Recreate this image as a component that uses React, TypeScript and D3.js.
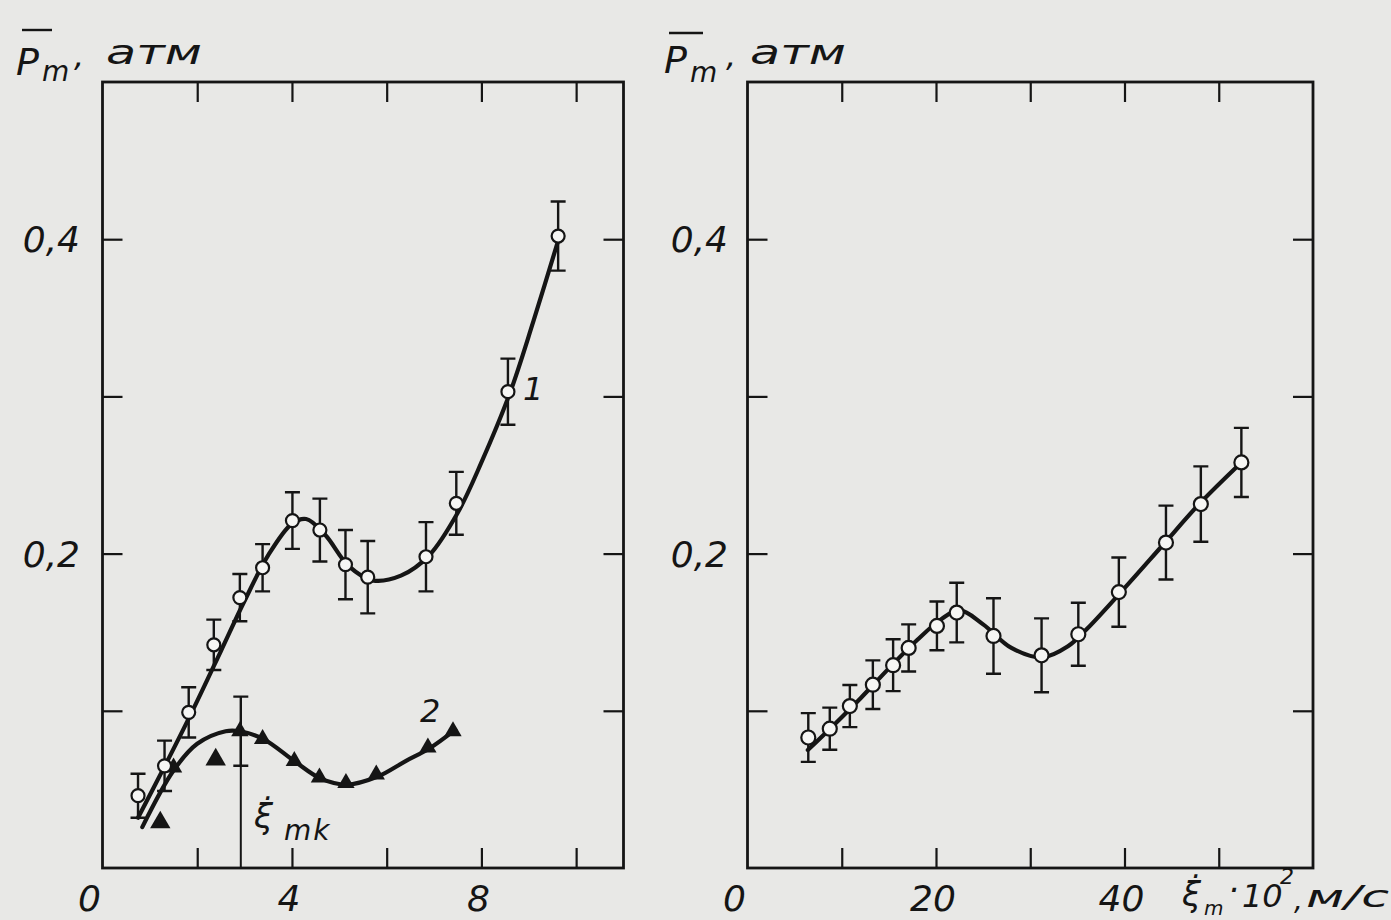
import React, { useRef, useEffect } from "react";
import * as d3 from "d3";

// left panel, curve 1 (open circles with error bars)
const leftPtsX = [0.75, 1.31, 1.82, 2.35, 2.9, 3.38, 4.01, 4.59, 5.13, 5.6, 6.83, 7.47, 8.56, 9.62];
const leftPtsY = [0.046, 0.065, 0.099, 0.142, 0.172, 0.191, 0.221, 0.215, 0.193, 0.185, 0.198, 0.232, 0.303, 0.402];
const leftPtsErr = [0.014, 0.016, 0.016, 0.016, 0.015, 0.015, 0.018, 0.02, 0.022, 0.023, 0.022, 0.02, 0.021, 0.022];

// smooth line drawn through curve 1
const leftFit1X = [0.75, 1.3, 1.9, 2.5, 3.0, 3.5, 4.0, 4.3, 4.7, 5.2, 5.7, 6.3, 6.9, 7.5, 8.0, 8.6, 9.1, 9.65];
const leftFit1Y = [0.032, 0.064, 0.1, 0.138, 0.17, 0.199, 0.219, 0.222, 0.212, 0.192, 0.183, 0.186, 0.199, 0.226, 0.258, 0.302, 0.348, 0.402];

// curve 2 (filled triangles)
const leftTriX = [1.5, 2.9, 3.38, 4.05, 4.58, 5.14, 5.78, 6.87, 7.4];
const leftTriY = [0.064, 0.087, 0.082, 0.068, 0.0575, 0.054, 0.0595, 0.0766, 0.087];
const leftTriOffX = [1.22, 2.39];
const leftTriOffY = [0.029, 0.069];
const leftFit2X = [0.84, 1.5, 2.0, 2.6, 2.9, 3.4, 4.05, 4.6, 5.15, 5.8, 6.4, 6.9, 7.45];
const leftFit2Y = [0.026, 0.062, 0.079, 0.087, 0.087, 0.082, 0.068, 0.057, 0.053, 0.058, 0.068, 0.076, 0.088];
const xiMk = 2.92; // marked point on curve 2, with its error
const xiMkY = 0.087;
const xiMkErr = 0.022;

// right panel
const rightPtsX = [6.45, 8.73, 10.86, 13.3, 15.45, 17.1, 20.1, 22.2, 26.1, 31.2, 35.1, 39.4, 44.4, 48.1, 52.4];
const rightPtsY = [0.083, 0.0886, 0.103, 0.1166, 0.129, 0.14, 0.154, 0.1625, 0.1476, 0.1353, 0.1487, 0.1755, 0.207, 0.2315, 0.258];
const rightPtsErr = [0.0155, 0.0134, 0.0134, 0.0155, 0.0165, 0.015, 0.0155, 0.019, 0.024, 0.0235, 0.02, 0.022, 0.0235, 0.024, 0.022];
const rightFitX = [6.4, 9, 12, 15, 18, 20.5, 22.5, 25, 28, 31.3, 34, 36, 40, 44, 48, 52.4];
const rightFitY = [0.075, 0.09, 0.108, 0.127, 0.145, 0.158, 0.164, 0.155, 0.14, 0.134, 0.141, 0.152, 0.178, 0.205, 0.232, 0.258];

// ticks and labels
const yTicks = [0.1, 0.2, 0.3, 0.4];
const yLabels = [0.2, 0.4];
const leftXTicks = [2, 4, 6, 8, 10];
const leftXLabels = [0, 4, 8];
const rightXTicks = [10, 20, 30, 40, 50];
const rightXLabels = [0, 20, 40];

const INK = "#151515";
const PAPER = "#e8e8e6";
const FONT = "'DejaVu Sans', sans-serif";

const App = () => {
  const svgRef = useRef(null);

  useEffect(() => {
    const svg = d3.select(svgRef.current);
    svg.selectAll("*").remove();

    svg.append("rect").attr("width", 1391).attr("height", 920).attr("fill", PAPER);

    const y = d3.scaleLinear().domain([0, 0.5]).range([868, 82]);
    const xL = d3.scaleLinear().domain([0, 11]).range([102.5, 623.5]);
    const xR = d3.scaleLinear().domain([0, 60]).range([747.5, 1313]);

    const txt = (g, s, x, yy, size, extra = {}) => {
      const t = g.append("text")
        .attr("x", x)
        .attr("y", yy)
        .attr("font-family", FONT)
        .attr("font-style", "italic")
        .attr("font-size", size)
        .attr("fill", INK)
        .text(s);
      Object.entries(extra).forEach(([k, v]) => t.attr(k, v));
      return t;
    };

    // "0,2" style labels on y, plain integers on x
    const fmtY = d => d3.format(".1f")(d).replace(".", ",");

    const drawFrame = (x, xTicks, xLabels, yLabelRight) => {
      const g = svg.append("g");
      const [x0, x1] = x.range();
      g.append("rect")
        .attr("x", x0)
        .attr("y", y(0.5))
        .attr("width", x1 - x0)
        .attr("height", y(0) - y(0.5))
        .attr("fill", "none")
        .attr("stroke", INK)
        .attr("stroke-width", 2.8);

      const axes = [
        [d3.axisBottom(x).tickValues(xTicks), `translate(0,${y(0)})`],
        [d3.axisTop(x).tickValues(xTicks), `translate(0,${y(0.5)})`],
        [d3.axisLeft(y).tickValues(yTicks), `translate(${x0},0)`],
        [d3.axisRight(y).tickValues(yTicks), `translate(${x1},0)`],
      ];
      axes.forEach(([ax, tr]) => {
        const a = g.append("g")
          .attr("transform", tr)
          .call(ax.tickSizeInner(-20).tickSizeOuter(0).tickFormat(() => ""));
        a.select(".domain").remove();
        a.selectAll("line").attr("stroke", INK).attr("stroke-width", 2.2);
      });

      xLabels.forEach(v => {
        txt(g, String(v), x(v) + (v === 0 ? -13 : -3), 911, 36, { "text-anchor": "middle" });
      });
      yLabels.forEach(v => {
        txt(g, fmtY(v), yLabelRight, y(v) + 13, 36, { "text-anchor": "end" });
      });
      return g;
    };

    const drawErr = (g, x, xs, ys, es) => {
      g.selectAll(null)
        .data(d3.range(xs.length))
        .join("path")
        .attr("d", i => {
          const cx = x(xs[i]);
          const top = y(ys[i] + es[i]);
          const bot = y(ys[i] - es[i]);
          return `M${cx - 7.5},${top}h15M${cx},${top}V${bot}M${cx - 7.5},${bot}h15`;
        })
        .attr("fill", "none")
        .attr("stroke", INK)
        .attr("stroke-width", 2.4);
    };

    const drawCurve = (g, x, xs, ys) => {
      const line = d3.line()
        .x(i => x(xs[i]))
        .y(i => y(ys[i]))
        .curve(d3.curveCatmullRom.alpha(0.5));
      g.append("path")
        .attr("d", line(d3.range(xs.length)))
        .attr("fill", "none")
        .attr("stroke", INK)
        .attr("stroke-width", 4.2)
        .attr("stroke-linecap", "round");
    };

    const drawCircles = (g, x, xs, ys, r) => {
      g.selectAll(null)
        .data(d3.range(xs.length))
        .join("circle")
        .attr("cx", i => x(xs[i]))
        .attr("cy", i => y(ys[i]))
        .attr("r", r)
        .attr("fill", "#f6f6f4")
        .attr("stroke", INK)
        .attr("stroke-width", 2.2);
    };

    const drawTriangles = (g, x, xs, ys, size) => {
      g.selectAll(null)
        .data(d3.range(xs.length))
        .join("path")
        .attr("transform", i => `translate(${x(xs[i])},${y(ys[i])})`)
        .attr("d", d3.symbol(d3.symbolTriangle).size(size)())
        .attr("fill", INK);
    };

    // ---- left panel
    const gl = drawFrame(xL, leftXTicks, leftXLabels, 80);

    // marker line for the critical velocity
    gl.append("line")
      .attr("x1", xL(xiMk)).attr("x2", xL(xiMk))
      .attr("y1", y(xiMkY)).attr("y2", y(0))
      .attr("stroke", INK).attr("stroke-width", 2);
    drawErr(gl, xL, [xiMk], [xiMkY], [xiMkErr]);

    drawErr(gl, xL, leftPtsX, leftPtsY, leftPtsErr);
    drawCurve(gl, xL, leftFit2X, leftFit2Y);
    drawCurve(gl, xL, leftFit1X, leftFit1Y);
    drawTriangles(gl, xL, leftTriX, leftTriY, 130);
    drawTriangles(gl, xL, leftTriOffX, leftTriOffY, 180);
    drawCircles(gl, xL, leftPtsX, leftPtsY, 6.5);

    txt(gl, "1", 523, 400, 32);
    txt(gl, "2", 420, 722, 32);
    txt(gl, "\u03BE\u0307", 254, 828, 34);
    txt(gl, "mk", 284, 840, 28, { "letter-spacing": 2 });

    // left title
    gl.append("line").attr("x1", 22).attr("x2", 52).attr("y1", 30).attr("y2", 30)
      .attr("stroke", INK).attr("stroke-width", 2.4);
    txt(gl, "P", 16, 75, 38);
    txt(gl, "m", 42, 81, 28);
    txt(gl, ",", 74, 66, 32);
    txt(gl, "атм", 106, 64, 33, { textLength: 96, lengthAdjust: "spacingAndGlyphs" });

    // ---- right panel
    const gr = drawFrame(xR, rightXTicks, rightXLabels, 728);
    drawErr(gr, xR, rightPtsX, rightPtsY, rightPtsErr);
    drawCurve(gr, xR, rightFitX, rightFitY);
    drawCircles(gr, xR, rightPtsX, rightPtsY, 7);

    gr.append("line").attr("x1", 669).attr("x2", 703).attr("y1", 33).attr("y2", 33)
      .attr("stroke", INK).attr("stroke-width", 2.4);
    txt(gr, "P", 664, 73, 38);
    txt(gr, "m", 690, 82, 28);
    txt(gr, ",", 726, 66, 32);
    txt(gr, "атм", 750, 64, 33, { textLength: 96, lengthAdjust: "spacingAndGlyphs" });

    // right x-axis title
    txt(gr, "\u03BE\u0307", 1182, 906, 34);
    txt(gr, "m", 1204, 915, 20);
    txt(gr, "·", 1228, 902, 34);
    txt(gr, "10", 1242, 907, 32);
    txt(gr, "2", 1280, 884, 22);
    txt(gr, ",", 1294, 910, 28);
    txt(gr, "м/с", 1306, 907, 30, { textLength: 83, lengthAdjust: "spacingAndGlyphs" });
  }, []);

  return (
    <div style={{ position: "absolute", left: 0, top: 0 }}>
      <svg ref={svgRef} width={1391} height={920} style={{ display: "block" }}></svg>
    </div>
  );
};

export default App;
